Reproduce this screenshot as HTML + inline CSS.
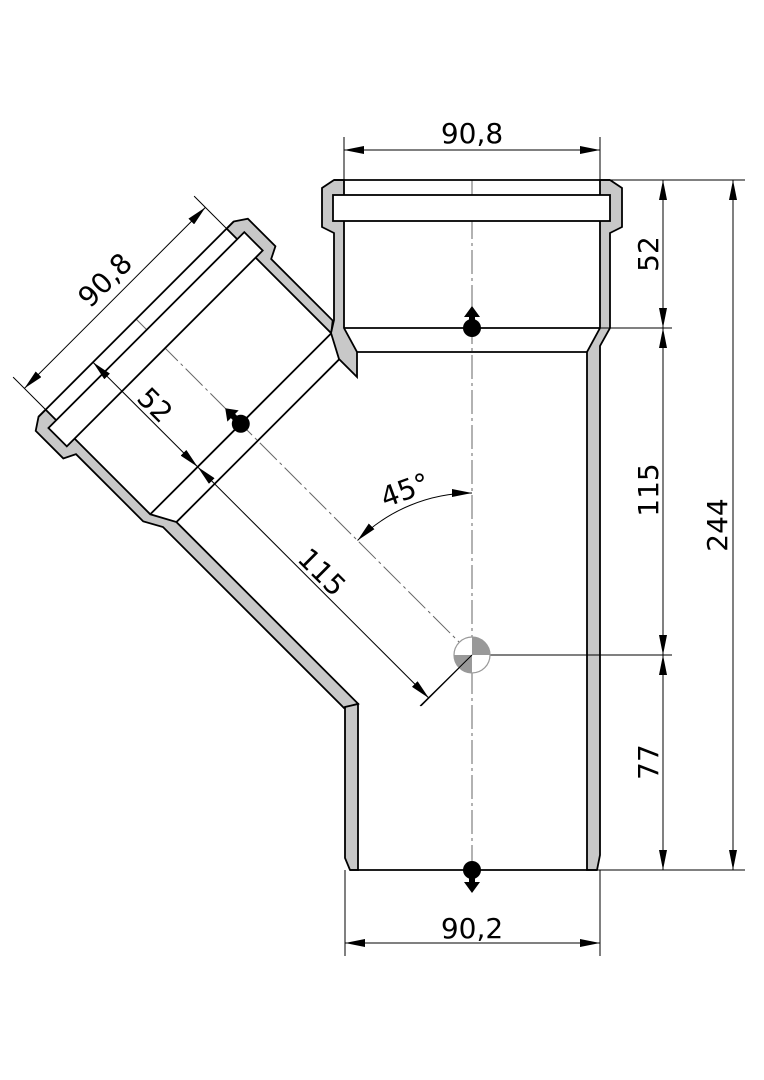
<!DOCTYPE html>
<html><head><meta charset="utf-8"><style>html,body{margin:0;padding:0;background:#fff}svg{display:block}</style></head>
<body>
<svg width="764" height="1080" viewBox="0 0 764 1080" xmlns="http://www.w3.org/2000/svg" font-family="DejaVu Sans, Liberation Sans, sans-serif">
<defs>
<marker id="a" viewBox="0 0 20 8" refX="20" refY="4" markerWidth="20" markerHeight="8" markerUnits="userSpaceOnUse" orient="auto-start-reverse"><path d="M0,0 L20,4 L0,8z" fill="#000"/></marker>
</defs>
<rect width="764" height="1080" fill="#fff"/>

<g stroke="#666" stroke-width="1" fill="none" stroke-dasharray="24 4 3 4">
<line x1="472" y1="180" x2="472" y2="892"/>
<line x1="472" y1="180" x2="472" y2="655" transform="rotate(-45 472 655)"/>
</g>

<g transform="rotate(-45 472 655)" stroke="#000" stroke-width="1.8" stroke-linejoin="miter">
<polygon fill="#c8c8c8" points="334,180 322,188 322,227 334,233 334,328 344,346 344,602 357,609 357,352 344,328 344,180"/>
<polygon fill="#c8c8c8" points="610,180 622,188 622,227 610,233 610,320 600,328 600,180"/>
<line x1="334" y1="180" x2="610" y2="180"/>
<line x1="344" y1="328" x2="600" y2="328"/>
<line x1="357" y1="352" x2="587" y2="352"/>
<rect x="333" y="195" width="277" height="26" fill="#fff"/>
<circle cx="472" cy="328" r="9" fill="#000" stroke="none"/>
<polygon points="472,306 464,317 469,317 469,323 475,323 475,317 480,317" fill="#000" stroke="none"/>
<g stroke-width="1" fill="none">
<line x1="344" y1="134" x2="344" y2="180"/>
<line x1="600" y1="134" x2="600" y2="180"/>
<line x1="344" y1="150" x2="600" y2="150" marker-start="url(#a)" marker-end="url(#a)"/>
<line x1="411" y1="180" x2="411" y2="328" marker-start="url(#a)" marker-end="url(#a)"/>
<line x1="411" y1="328" x2="411" y2="655" marker-start="url(#a)" marker-end="url(#a)"/>
<line x1="400" y1="328" x2="420" y2="328"/>
<line x1="400" y1="655" x2="472" y2="655"/>
</g>
</g>

<g stroke="#000" stroke-width="1.8">
<polygon fill="#c8c8c8" points="610,180 622,188 622,227 610,233 610,328 600,346 600,855 597,870 587,870 587,352 600,328 600,180"/>
<polygon fill="#c8c8c8" points="334,180 322,188 322,227 334,233 334,320 331,333 339,359 357,377 357,352 344,328 344,180"/>
<polygon fill="#c8c8c8" points="345,707 345,858 350,870 358,870 358,704"/>
<line x1="334" y1="180" x2="610" y2="180"/>
<line x1="344" y1="328" x2="600" y2="328"/>
<line x1="357" y1="352" x2="587" y2="352"/>
<line x1="350" y1="870" x2="597" y2="870"/>
<rect x="333" y="195" width="277" height="26" fill="#fff"/>
</g>
<circle cx="472" cy="328" r="9" fill="#000"/>
<polygon points="472,306 464,317 469,317 469,323 475,323 475,317 480,317" fill="#000"/>
<circle cx="472" cy="870" r="9" fill="#000"/>
<polygon points="472,893 464,882 469,882 469,876 475,876 475,882 480,882" fill="#000"/>

<line x1="472" y1="655" x2="672" y2="655" stroke="#000" stroke-width="1"/>
<circle cx="472" cy="655" r="18" fill="#fff" stroke="#999" stroke-width="1.2"/>
<path d="M472,655 L472,637 A18,18 0 0,1 490,655 Z" fill="#999"/>
<path d="M472,655 L472,673 A18,18 0 0,1 454,655 Z" fill="#999"/>
<line x1="472" y1="655" x2="420" y2="706" stroke="#000" stroke-width="1"/>

<g stroke="#000" stroke-width="1" fill="none">
<line x1="344" y1="137" x2="344" y2="180"/>
<line x1="600" y1="137" x2="600" y2="180"/>
<line x1="344" y1="150" x2="600" y2="150" marker-start="url(#a)" marker-end="url(#a)"/>
<line x1="345" y1="870" x2="345" y2="956"/>
<line x1="600" y1="870" x2="600" y2="956"/>
<line x1="345" y1="943" x2="600" y2="943" marker-start="url(#a)" marker-end="url(#a)"/>
<line x1="610" y1="180" x2="745" y2="180"/>
<line x1="600" y1="328" x2="672" y2="328"/>
<line x1="597" y1="870" x2="745" y2="870"/>
<line x1="663" y1="180" x2="663" y2="328" marker-start="url(#a)" marker-end="url(#a)"/>
<line x1="663" y1="328" x2="663" y2="655" marker-start="url(#a)" marker-end="url(#a)"/>
<line x1="663" y1="655" x2="663" y2="870" marker-start="url(#a)" marker-end="url(#a)"/>
<line x1="733" y1="180" x2="733" y2="870" marker-start="url(#a)" marker-end="url(#a)"/>
<path d="M472,493 A162,162 0 0,0 357.5,540.5" marker-start="url(#a)" marker-end="url(#a)"/>
</g>

<g font-size="28" fill="#000" text-anchor="middle">
<text x="472" y="143">90,8</text>
<text x="472" y="938">90,2</text>
<text x="658" y="254" transform="rotate(-90 658 254)">52</text>
<text x="658" y="490" transform="rotate(-90 658 490)">115</text>
<text x="658" y="762" transform="rotate(-90 658 762)">77</text>
<text x="727" y="525" transform="rotate(-90 727 525)">244</text>
<text x="105" y="280" dy="0.35em" transform="rotate(-45 105 280)">90,8</text>
<text x="155" y="405" dy="0.35em" transform="rotate(45 155 405)">52</text>
<text x="322" y="572" dy="0.35em" transform="rotate(45 322 572)">115</text>
<text x="405" y="490" dy="0.35em" transform="rotate(-20 405 490)">45°</text>
</g>
</svg>
</body></html>
